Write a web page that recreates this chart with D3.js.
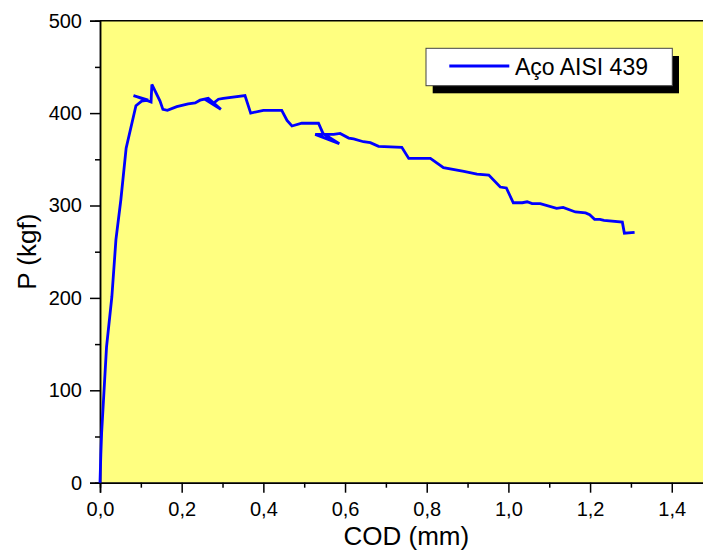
<!DOCTYPE html>
<html>
<head>
<meta charset="utf-8">
<script src="https://cdn.jsdelivr.net/npm/d3@7"></script>
<style>
  html, body { margin: 0; padding: 0; background: #ffffff; }
  svg { display: block; }
  text { font-family: "Liberation Sans", Arial, sans-serif; fill: #000; }
</style>
</head>
<body>
<svg id="chart" width="703" height="553"></svg>
<script>
// ---- data ----
const seriesName = "Aço AISI 439";
const cod = [0, 0.002, 0.004, 0.016, 0.029, 0.039, 0.051, 0.064, 0.088, 0.102, 0.118,
  0.082, 0.125, 0.127, 0.147, 0.154, 0.165, 0.188, 0.216, 0.233, 0.245, 0.265,
  0.296, 0.257, 0.279, 0.290, 0.302, 0.355, 0.369, 0.400, 0.445, 0.458, 0.470,
  0.494, 0.535, 0.546, 0.586, 0.527, 0.572, 0.588, 0.609, 0.621, 0.645, 0.662,
  0.682, 0.739, 0.756, 0.809, 0.841, 0.891, 0.923, 0.952, 0.980, 0.995, 1.012,
  1.034, 1.046, 1.058, 1.078, 1.118, 1.134, 1.164, 1.189, 1.199, 1.211, 1.224,
  1.234, 1.279, 1.284, 1.309];
const load = [0, 30, 54, 147, 201, 263, 306, 362, 408, 413, 414,
  419, 412, 431, 413, 404, 403, 407, 410, 411, 414, 416,
  404, 415, 411, 415, 416, 419, 400, 403, 403, 392, 386,
  389, 389, 378, 367, 377, 377, 378, 373, 372, 369, 368,
  364, 363, 351, 351, 341, 337, 334, 333, 320, 319, 303,
  303, 304, 302, 302, 297, 298, 293, 292, 290, 285, 285,
  284, 282, 270, 271];
const xTicks = [0, 0.2, 0.4, 0.6, 0.8, 1.0, 1.2, 1.4];
const xMinor = [0.1, 0.3, 0.5, 0.7, 0.9, 1.1, 1.3];
const yTicks = [0, 100, 200, 300, 400, 500];
const yMinor = [50, 150, 250, 350, 450];
const xLabel = "COD (mm)";
const yLabel = "P (kgf)";

// ---- layout ----
const svg = d3.select("#chart");
const plotLeft = 100, plotTop = 20.7, plotBottom = 482.7;
const x = d3.scaleLinear().domain([0, 1.5]).range([plotLeft, plotLeft + 1.5 * 408.4]);
const y = d3.scaleLinear().domain([0, 500]).range([plotBottom, plotTop]);
const fmt = d => d3.format(".1f")(d).replace(".", ",");

// plot background
svg.append("rect")
  .attr("x", x(0)).attr("y", y(500))
  .attr("width", x(1.5) - x(0)).attr("height", y(0) - y(500))
  .attr("fill", "#ffff80");

// frame (top & right)
svg.append("line").attr("x1", x(0)).attr("x2", x(1.5)).attr("y1", y(500)).attr("y2", y(500))
  .attr("stroke", "#000").attr("stroke-width", 1.5);
svg.append("line").attr("x1", x(1.5)).attr("x2", x(1.5)).attr("y1", y(500)).attr("y2", y(0))
  .attr("stroke", "#000").attr("stroke-width", 1.5);

// axes
const xAxis = svg.append("g").attr("transform", `translate(0,${plotBottom})`)
  .call(d3.axisBottom(x).tickValues(xTicks).tickFormat(fmt).tickSize(10).tickPadding(9));
const xAxisMinor = svg.append("g").attr("transform", `translate(0,${plotBottom})`)
  .call(d3.axisBottom(x).tickValues(xMinor).tickFormat("").tickSize(5));
const yAxis = svg.append("g").attr("transform", `translate(${plotLeft},0)`)
  .call(d3.axisLeft(y).tickValues(yTicks).tickSize(10).tickPadding(8));
const yAxisMinor = svg.append("g").attr("transform", `translate(${plotLeft},0)`)
  .call(d3.axisLeft(y).tickValues(yMinor).tickFormat("").tickSize(5));

[xAxis, xAxisMinor, yAxis, yAxisMinor].forEach(g => {
  g.select(".domain").attr("stroke", "#000").attr("stroke-width", 1.5);
  g.selectAll(".tick line").attr("stroke", "#000").attr("stroke-width", 1.5);
  g.selectAll("text").attr("font-size", 20).attr("font-family", "Liberation Sans, Arial, sans-serif").attr("fill", "#000");
});

// axis titles
svg.append("text").attr("x", x(0.75)).attr("y", 545)
  .attr("text-anchor", "middle").attr("font-size", 26).text(xLabel);
svg.append("text").attr("transform", `translate(36,${(plotTop + plotBottom) / 2}) rotate(-90)`)
  .attr("text-anchor", "middle").attr("font-size", 26).text(yLabel);

// series
const pts = cod.map((c, i) => [c, load[i]]);
svg.append("path").datum(pts)
  .attr("fill", "none").attr("stroke", "#0000ff").attr("stroke-width", 2.8)
  .attr("stroke-linejoin", "miter")
  .attr("d", d3.line().x(d => x(d[0])).y(d => y(d[1])));

// legend
const lg = svg.append("g");
lg.append("rect").attr("x", 432.7).attr("y", 56).attr("width", 246.3).attr("height", 37.3).attr("fill", "#000");
lg.append("rect").attr("x", 426).attr("y", 48.3).attr("width", 246.3).attr("height", 37.4)
  .attr("fill", "#fff").attr("stroke", "#444").attr("stroke-width", 1);
lg.append("line").attr("x1", 449.3).attr("x2", 509.3).attr("y1", 66).attr("y2", 66)
  .attr("stroke", "#0000ff").attr("stroke-width", 2.8);
lg.append("text").attr("x", 515).attr("y", 74.5).attr("font-size", 23).text(seriesName);
</script>
</body>
</html>
